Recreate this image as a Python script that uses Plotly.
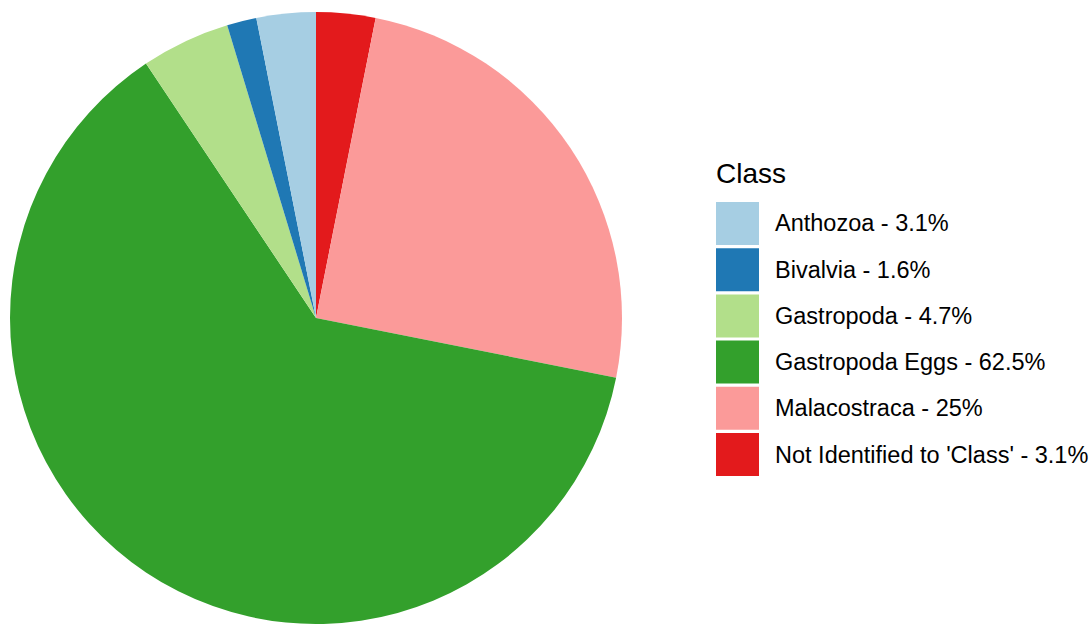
import plotly.graph_objects as go

# Counts per class (share of 64 observations)
classes = ["Anthozoa", "Bivalvia", "Gastropoda", "Gastropoda Eggs",
           "Malacostraca", "Not Identified to 'Class'"]
counts = [2, 1, 3, 40, 16, 2]
colors = ["#A6CEE3", "#1F78B4", "#B2DF8A", "#33A02C", "#FB9A99", "#E31A1C"]

W, H = 1089, 624
total = sum(counts)
labels = [f"{c} - {round(n / total * 100, 1):g}%" for c, n in zip(classes, counts)]

# Slices run clockwise from 12 o'clock in reverse class order,
# so the first class sits just left of the top.
fig = go.Figure(go.Pie(
    labels=labels[::-1],
    values=counts[::-1],
    marker=dict(colors=colors[::-1], line=dict(width=0)),
    sort=False,
    direction="clockwise",
    rotation=0,
    textinfo="none",
    hoverinfo="label+value",
    showlegend=False,
    domain=dict(x=[10 / W, 622 / W], y=[0, (H - 12) / H]),
))

# Legend drawn as square keys with labels
font = "Liberation Sans, Arial, sans-serif"
key_x0, key_x1 = 716, 759
key_top, key_h, key_step = 202, 43, 46.2
shapes, annotations = [], []
annotations.append(dict(
    x=(key_x0 - 2) / W, y=1 - 173 / H, xref="paper", yref="paper",
    xanchor="left", yanchor="middle", text="Class", showarrow=False,
    font=dict(family=font, size=28, color="#000000"),
))
for i, (lab, col) in enumerate(zip(labels, colors)):
    y0 = key_top + i * key_step
    shapes.append(dict(
        type="rect", xref="paper", yref="paper",
        x0=key_x0 / W, x1=key_x1 / W, y0=1 - y0 / H, y1=1 - (y0 + key_h) / H,
        fillcolor=col, line=dict(width=0),
    ))
    annotations.append(dict(
        x=773 / W, y=1 - (y0 + key_h / 2) / H, xref="paper", yref="paper",
        xanchor="left", yanchor="middle", text=lab, showarrow=False,
        font=dict(family=font, size=23.5, color="#000000"),
    ))

fig.update_layout(
    width=W, height=H,
    margin=dict(l=0, r=0, t=0, b=0),
    paper_bgcolor="white", plot_bgcolor="white",
    shapes=shapes, annotations=annotations,
)

fig.write_html("out.html")
